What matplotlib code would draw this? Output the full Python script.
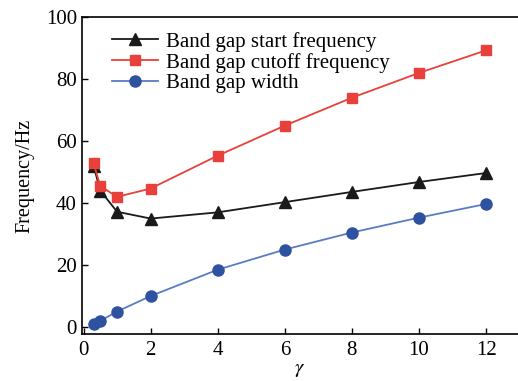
import matplotlib
matplotlib.use("Agg")
import matplotlib.pyplot as plt

gamma = [0.3, 0.5, 1, 2, 4, 6, 8, 10, 12]
start_freq = [52.0, 44.0, 37.2, 35.0, 37.0, 40.3, 43.6, 46.8, 49.7]
cutoff_freq = [52.8, 45.5, 42.0, 44.7, 55.3, 65.0, 74.0, 82.0, 89.3]
gap_width = [1.0, 2.0, 5.0, 10.0, 18.5, 25.0, 30.5, 35.3, 39.7]
labels = ["Band gap start frequency", "Band gap cutoff frequency", "Band gap width"]
xticks = [0, 2, 4, 6, 8, 10, 12]
yticks = [0, 20, 40, 60, 80, 100]

plt.rcParams['font.family'] = ['Liberation Serif', 'DejaVu Serif']
plt.rcParams['mathtext.fontset'] = 'stix'

fig = plt.figure(figsize=(5.18, 3.81), dpi=100)
ax = fig.add_axes([0.158, 0.123, 0.842, 0.832])

ax.plot(gamma, start_freq, color='#1a1a1a', marker='^', ms=9, lw=1.3, label=labels[0])
ax.plot(gamma, cutoff_freq, color='#e8403a', marker='s', ms=7, lw=1.3, label=labels[1])
ax.plot(gamma, gap_width, color='#5a7cc2', marker='o', ms=8, lw=1.3,
        markerfacecolor='#2f52a0', markeredgecolor='#2f52a0', label=labels[2])

ax.set_xlim(-0.05, 12.95)
ax.set_ylim(-2.3, 100)
ax.set_xticks(xticks)
ax.set_yticks(yticks)
ax.tick_params(direction='in', labelsize=15, length=4, width=1)
ax.tick_params(axis='x', pad=5)
for s in ax.spines.values():
    s.set_linewidth(1.2)
ax.spines['right'].set_visible(False)

ax.set_xlabel(r'$\gamma$', fontsize=15, labelpad=0)
ax.set_ylabel('Frequency/Hz', fontsize=14.5, labelpad=8)

ax.legend(loc='upper left', bbox_to_anchor=(0.035, 1.0), frameon=False, fontsize=15,
          handlelength=2.2, handletextpad=0.4, labelspacing=0.05, borderaxespad=0.3)

fig.savefig('out.png', dpi=100)
